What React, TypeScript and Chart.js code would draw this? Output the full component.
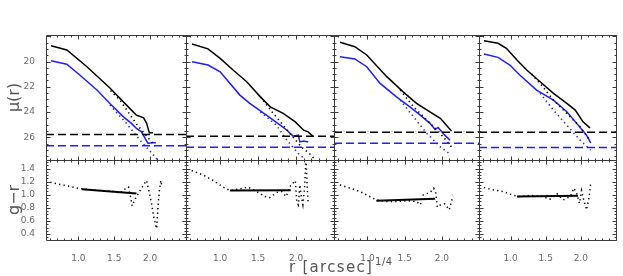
import React, { useEffect, useRef } from "react";
import { Chart, registerables } from "chart.js";

Chart.register(...registerables);

type P = [number, number];

// ---------- axis ranges & tick labels ----------
const X_MIN = 0.55;
const X_MAX = 2.5;
const MU_MIN = 17.9;
const MU_MAX = 27.8;
const GR_MIN = 0.31;
const GR_MAX = 1.53;
const X_TICKS = [1.0, 1.5, 2.0];
const MU_TICKS = [20, 22, 24, 26];
const GR_TICKS = [0.4, 0.6, 0.8, 1.0, 1.2, 1.4];
const MU_LABEL = "μ(r)";
const GR_LABEL = "g−r";
const X_LABEL = "r [arcsec]";
const X_LABEL_SUP = "1/4";

// ---------- surface-brightness profiles (x = r^1/4, y = mu) ----------
const P1_R_SOLID: P[] = [[0.62, 18.75], [0.84, 19.09], [1.12, 20.41], [1.44, 22.1], [1.74, 23.85], [1.81, 24.25], [1.91, 24.46], [1.95, 24.88], [1.99, 25.65], [2.04, 25.65]];
const P1_R_DOT: P[] = [[1.45, 22.3], [1.58, 23.06], [1.81, 24.95], [2.04, 26.5]];
const P1_G_SOLID: P[] = [[0.62, 19.94], [0.84, 20.22], [1.02, 21.07], [1.26, 22.26], [1.44, 23.32], [1.63, 24.38], [1.74, 24.9], [1.81, 25.3], [1.88, 25.57], [1.97, 26.49], [2.02, 26.44], [2.08, 26.44]];
const P1_G_DOT: P[] = [[1.44, 23.45], [1.67, 24.9], [1.86, 26.23], [2.07, 27.55], [2.12, 27.9]];

const P2_R_SOLID: P[] = [[0.63, 18.61], [0.84, 19.0], [1.0, 19.75], [1.17, 20.67], [1.35, 21.6], [1.53, 22.8], [1.66, 23.59], [1.83, 24.11], [1.99, 24.78], [2.1, 25.44], [2.16, 25.57], [2.22, 25.91]];
const P2_R_DOT: P[] = [[1.53, 22.8], [1.7, 24.11], [1.92, 25.7], [2.07, 26.76], [2.2, 27.42], [2.25, 27.8]];
const P2_G_SOLID: P[] = [[0.63, 20.02], [0.84, 20.28], [1.0, 20.81], [1.26, 22.66], [1.39, 23.32], [1.61, 24.25], [1.79, 25.04], [1.88, 25.44], [1.96, 25.91], [2.03, 25.83], [2.05, 26.37], [2.1, 26.29], [2.16, 26.37]];
const P2_G_DOT: P[] = [[1.53, 23.98], [1.74, 25.04], [1.88, 26.23], [2.03, 27.29], [2.12, 27.76]];

const P3_R_SOLID: P[] = [[0.63, 18.48], [0.83, 18.83], [0.99, 19.48], [1.26, 21.2], [1.48, 22.4], [1.66, 23.32], [1.84, 23.98], [1.98, 24.5], [2.13, 25.5]];
const P3_R_DOT: P[] = [[1.44, 22.26], [1.62, 23.59], [1.8, 24.64], [1.98, 25.7], [2.13, 26.76]];
const P3_G_SOLID: P[] = [[0.63, 19.62], [0.83, 19.8], [0.99, 20.41], [1.17, 21.73], [1.39, 22.8], [1.57, 23.59], [1.71, 24.25], [1.84, 24.9], [1.91, 25.38], [1.95, 25.22], [2.04, 25.83], [2.11, 26.23]];
const P3_G_DOT: P[] = [[1.44, 23.06], [1.62, 24.38], [1.8, 25.7], [1.98, 26.76], [2.1, 27.29]];

const P4_R_SOLID: P[] = [[0.62, 18.35], [0.82, 18.56], [0.94, 18.95], [1.09, 19.88], [1.23, 20.67], [1.42, 21.6], [1.61, 22.52], [1.8, 23.32], [1.92, 23.85], [2.03, 24.78], [2.13, 25.25]];
const P4_R_DOT: P[] = [[1.3, 21.0], [1.44, 21.87], [1.61, 23.06], [1.8, 24.11], [1.99, 25.17], [2.11, 26.1]];
const P4_G_SOLID: P[] = [[0.62, 19.4], [0.82, 19.67], [0.99, 20.28], [1.13, 21.07], [1.37, 22.26], [1.61, 23.06], [1.8, 23.98], [1.94, 24.9], [2.04, 25.57], [2.08, 25.83], [2.14, 26.44]];
const P4_G_DOT: P[] = [[1.42, 22.52], [1.61, 23.85], [1.8, 25.04], [1.99, 26.23], [2.14, 27.02]];

// sky limits (horizontal dashed lines)
const SKY_R = [25.78, 25.91, 25.6, 25.6];
const SKY_G = [26.68, 26.79, 26.47, 26.81];

// ---------- colour profiles (g - r) ----------
const P1_GR_DOT: P[] = [[0.61, 1.19], [1.02, 1.095], [1.3, 1.064], [1.51, 1.049], [1.58, 1.024], [1.63, 1.075], [1.7, 1.116], [1.74, 0.896], [1.75, 0.83], [1.79, 0.93], [1.86, 1.064], [1.93, 1.186], [1.95, 1.217], [1.99, 1.024], [2.02, 0.87], [2.05, 0.665], [2.09, 0.484], [2.11, 0.82], [2.13, 1.075], [2.15, 1.217], [2.16, 1.15]];
const P1_GR_FIT: P[] = [[1.05, 1.085], [1.81, 1.02]];

const P2_GR_DOT: P[] = [[0.625, 1.37], [0.78, 1.3], [0.91, 1.217], [1.04, 1.116], [1.13, 1.064], [1.26, 1.09], [1.37, 1.116], [1.48, 1.049], [1.59, 0.973], [1.65, 0.957], [1.75, 1.034], [1.81, 1.049], [1.87, 0.973], [1.92, 1.125], [1.99, 1.217], [2.01, 0.896], [2.03, 0.846], [2.05, 1.15], [2.07, 0.973], [2.09, 0.85], [2.11, 1.075], [2.12, 1.28], [2.13, 1.6], [2.14, 1.3], [2.15, 1.05], [2.16, 0.87]];
const P2_GR_FIT: P[] = [[1.13, 1.064], [1.93, 1.07]];

const P3_GR_DOT: P[] = [[0.63, 1.15], [0.77, 1.1], [0.9, 1.049], [1.03, 0.973], [1.12, 0.922], [1.26, 0.896], [1.39, 0.896], [1.53, 0.91], [1.66, 0.896], [1.71, 0.846], [1.75, 0.998], [1.84, 1.034], [1.89, 1.1], [1.92, 1.024], [1.94, 0.81], [1.98, 0.846], [2.04, 0.86], [2.1, 0.77], [2.13, 0.896], [2.15, 0.983]];
const P3_GR_FIT: P[] = [[1.12, 0.91], [1.91, 0.94]];

const P4_GR_DOT: P[] = [[0.62, 1.11], [0.75, 1.075], [0.9, 1.049], [1.02, 0.998], [1.11, 0.973], [1.28, 0.988], [1.42, 0.983], [1.56, 0.932], [1.66, 1.014], [1.75, 0.922], [1.85, 0.973], [1.9, 1.1], [1.94, 1.024], [1.98, 0.87], [2.01, 1.064], [2.04, 0.922], [2.08, 0.77], [2.11, 0.922], [2.13, 1.075], [2.14, 1.177]];
const P4_GR_FIT: P[] = [[1.09, 0.975], [1.96, 0.985]];

const TOP = [
  { rSolid: P1_R_SOLID, rDot: P1_R_DOT, gSolid: P1_G_SOLID, gDot: P1_G_DOT },
  { rSolid: P2_R_SOLID, rDot: P2_R_DOT, gSolid: P2_G_SOLID, gDot: P2_G_DOT },
  { rSolid: P3_R_SOLID, rDot: P3_R_DOT, gSolid: P3_G_SOLID, gDot: P3_G_DOT },
  { rSolid: P4_R_SOLID, rDot: P4_R_DOT, gSolid: P4_G_SOLID, gDot: P4_G_DOT },
];
const BOTTOM = [
  { dot: P1_GR_DOT, fit: P1_GR_FIT },
  { dot: P2_GR_DOT, fit: P2_GR_FIT },
  { dot: P3_GR_DOT, fit: P3_GR_FIT },
  { dot: P4_GR_DOT, fit: P4_GR_FIT },
];

// ---------- layout ----------
const W = 623;
const H = 276;
const COL_EDGES = [46, 186, 334, 479, 616];
const ROW_EDGES = [35, 160, 240];
const Y_AXIS_W = 46;
const X_AXIS_H = 36;
const FONT = "'DejaVu Sans', sans-serif";
const BLACK = "#000000";
const BLUE = "#1e1eff";
const TEXT = "#6a6a6a";
const FRAME = "#3a3a3a";

function ds(data: P[], color: string, width: number, dash: number[]) {
  return {
    data: data.map(([x, y]) => ({ x, y })),
    borderColor: color,
    borderWidth: width,
    borderDash: dash,
    borderCapStyle: "butt",
    pointRadius: 0,
    fill: false,
    tension: 0,
  };
}

function tickVals(min: number, max: number, step: number) {
  const out: number[] = [];
  const k0 = Math.ceil(min / step - 1e-9);
  const k1 = Math.floor(max / step + 1e-9);
  for (let k = k0; k <= k1; k++) out.push(k * step);
  return out;
}

const framePlugin = {
  id: "frame",
  afterDraw(chart: any, _args: any, opts: any) {
    const { ctx, chartArea: a, scales } = chart;
    const xs = scales.x;
    const ys = scales.y;
    ctx.save();
    ctx.strokeStyle = FRAME;
    ctx.lineWidth = 1;
    const L = a.left + 0.5, R = a.right + 0.5, T = a.top + 0.5, B = a.bottom + 0.5;
    ctx.beginPath();
    ctx.rect(L, T, R - L, B - T);
    const line = (x1: number, y1: number, x2: number, y2: number) => {
      ctx.moveTo(x1, y1);
      ctx.lineTo(x2, y2);
    };
    const xt = (step: number, len: number) => {
      for (const v of tickVals(xs.min, xs.max, step)) {
        const px = Math.round(xs.getPixelForValue(v)) + 0.5;
        line(px, B, px, B - len);
        line(px, T, px, T + len);
      }
    };
    const yt = (step: number, len: number) => {
      for (const v of tickVals(ys.min, ys.max, step)) {
        const py = Math.round(ys.getPixelForValue(v)) + 0.5;
        line(L, py, L + len, py);
        line(R, py, R - len, py);
      }
    };
    xt(opts.xMajor, 4);
    xt(opts.xMinor, 2);
    yt(opts.yMajor, 4);
    yt(opts.yMinor, 2);
    ctx.stroke();
    ctx.restore();
  },
};

const xTitlePlugin = {
  id: "xTitle",
  afterDraw(chart: any) {
    const ctx = chart.ctx;
    ctx.save();
    ctx.fillStyle = "#555555";
    ctx.textBaseline = "alphabetic";
    ctx.textAlign = "left";
    ctx.font = `15px ${FONT}`;
    try { (ctx as any).letterSpacing = "1.3px"; } catch (e) {}
    const mainW = ctx.measureText(X_LABEL).width;
    const cx = (COL_EDGES[0] + COL_EDGES[4]) / 2;
    const x0 = cx - mainW / 2;
    ctx.fillText(X_LABEL, x0, 272);
    ctx.font = `10px ${FONT}`;
    try { (ctx as any).letterSpacing = "0.5px"; } catch (e) {}
    ctx.fillText(X_LABEL_SUP, x0 + mainW + 2, 265);
    ctx.restore();
  },
};

function buildConfig(i: number) {
  const row = i < 4 ? 0 : 1;
  const col = i % 4;
  const datasets: any[] = [];
  if (row === 0) {
    const t = TOP[col];
    datasets.push(ds([[X_MIN, SKY_R[col]], [X_MAX, SKY_R[col]]], BLACK, 1.5, [8, 4]));
    datasets.push(ds([[X_MIN, SKY_G[col]], [X_MAX, SKY_G[col]]], BLUE, 1.5, [8, 4]));
    datasets.push(ds(t.rDot, BLACK, 1.6, [1.3, 3.4]));
    datasets.push(ds(t.gDot, BLUE, 1.6, [1.3, 3.4]));
    datasets.push(ds(t.rSolid, BLACK, 1.5, []));
    datasets.push(ds(t.gSolid, BLUE, 1.5, []));
  } else {
    const b = BOTTOM[col];
    datasets.push(ds(b.dot, BLACK, 1.5, [1.3, 3.2]));
    datasets.push(ds(b.fit, BLACK, 2, []));
  }
  const yMin = row === 0 ? MU_MIN : GR_MIN;
  const yMax = row === 0 ? MU_MAX : GR_MAX;
  const yTicks = row === 0 ? MU_TICKS : GR_TICKS;
  const plugins: any[] = [framePlugin];
  if (i === 5) plugins.push(xTitlePlugin);
  return {
    type: "line",
    data: { datasets },
    plugins,
    options: {
      responsive: false,
      animation: false,
      devicePixelRatio: 1,
      events: [],
      layout: {
        padding: {
          left: COL_EDGES[col] - Y_AXIS_W,
          right: W - COL_EDGES[col + 1],
          top: ROW_EDGES[row],
          bottom: H - ROW_EDGES[row + 1] - X_AXIS_H,
        },
      },
      plugins: {
        legend: { display: false },
        tooltip: { enabled: false },
        frame: {
          xMajor: 0.5,
          xMinor: 0.1,
          yMajor: row === 0 ? 2 : 0.2,
          yMinor: row === 0 ? 0.5 : 0.05,
        },
      },
      scales: {
        x: {
          type: "linear",
          min: X_MIN,
          max: X_MAX,
          grid: { display: false },
          border: { display: false },
          ticks: {
            display: row === 1,
            color: TEXT,
            font: { family: FONT, size: 9 },
            padding: 5,
            maxRotation: 0,
            autoSkip: false,
            callback: (v: number) => Number(v).toFixed(1),
          },
          afterBuildTicks: (s: any) => {
            s.ticks = X_TICKS.map((v) => ({ value: v }));
          },
          afterFit: (s: any) => {
            s.height = X_AXIS_H;
          },
        },
        y: {
          type: "linear",
          min: yMin,
          max: yMax,
          reverse: row === 0,
          grid: { display: false },
          border: { display: false },
          title: {
            display: col === 0,
            text: row === 0 ? MU_LABEL : GR_LABEL,
            color: "#555555",
            font: { family: FONT, size: 16 },
            padding: { top: 5, bottom: 0 },
          },
          ticks: {
            display: col === 0,
            color: TEXT,
            font: { family: FONT, size: 9 },
            padding: 3,
            autoSkip: false,
            callback: (v: number) => (row === 0 ? String(Math.round(v)) : Number(v).toFixed(1)),
          },
          afterBuildTicks: (s: any) => {
            s.ticks = yTicks.map((v) => ({ value: v }));
          },
          afterFit: (s: any) => {
            s.width = Y_AXIS_W;
          },
        },
      },
    },
  };
}

export default function App() {
  const refs = useRef<(HTMLCanvasElement | null)[]>([]);
  useEffect(() => {
    const charts = Array.from({ length: 8 }, (_, i) => new Chart(refs.current[i] as HTMLCanvasElement, buildConfig(i) as any));
    return () => {
      charts.forEach((c) => c.destroy());
    };
  }, []);
  return (
    <div style={{ position: "absolute", left: 0, top: 0, width: W, height: H, background: "#ffffff" }}>
      {Array.from({ length: 8 }, (_, i) => (
        <canvas
          key={i}
          ref={(el) => {
            refs.current[i] = el;
          }}
          width={W}
          height={H}
          style={{ position: "absolute", left: 0, top: 0, width: W, height: H }}
        />
      ))}
    </div>
  );
}
